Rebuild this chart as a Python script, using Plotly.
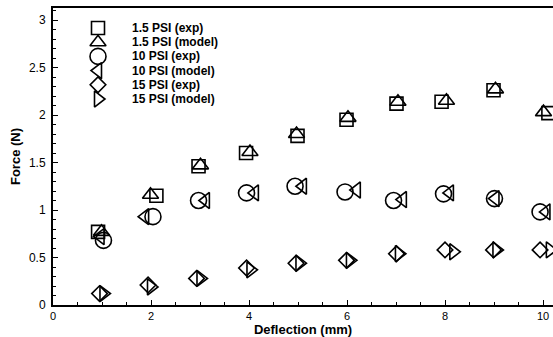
import plotly.graph_objects as go

# Measured force vs. deflection at three inflation pressures
defl_exp_1_5 = [0.92, 2.11, 2.97, 3.94, 4.99, 5.99, 7.01, 7.93, 8.99, 10.11]
force_exp_1_5 = [0.77, 1.15, 1.46, 1.60, 1.78, 1.95, 2.12, 2.14, 2.26, 2.02]

defl_model_1_5 = [0.99, 1.99, 3.01, 4.02, 4.97, 6.02, 7.04, 8.03, 9.03, 10.01]
force_model_1_5 = [0.77, 1.16, 1.47, 1.61, 1.80, 1.97, 2.14, 2.15, 2.27, 2.03]

defl_exp_10 = [1.03, 2.04, 2.97, 3.95, 4.94, 5.96, 6.95, 7.97, 9.01, 9.94]
force_exp_10 = [0.68, 0.93, 1.10, 1.18, 1.25, 1.19, 1.10, 1.17, 1.12, 0.98]

defl_model_10 = [0.97, 1.88, 3.12, 4.12, 5.10, 6.20, 7.14, 8.10, 9.03, 10.07]
force_model_10 = [0.72, 0.93, 1.10, 1.18, 1.25, 1.21, 1.11, 1.18, 1.12, 0.98]

defl_exp_15 = [0.95, 1.94, 2.93, 3.95, 4.96, 5.99, 7.01, 8.00, 8.99, 9.94]
force_exp_15 = [0.12, 0.21, 0.28, 0.39, 0.44, 0.47, 0.54, 0.58, 0.58, 0.58]

defl_model_15 = [1.03, 2.00, 3.01, 4.03, 5.03, 6.06, 7.06, 8.17, 9.05, 10.14]
force_model_15 = [0.12, 0.19, 0.28, 0.37, 0.44, 0.47, 0.54, 0.56, 0.58, 0.58]

series_names = ["1.5 PSI (exp)", "1.5 PSI (model)", "10 PSI (exp)",
                "10 PSI (model)", "15 PSI (exp)", "15 PSI (model)"]

x_ticks = [0, 2, 4, 6, 8, 10]
y_ticks = [0, 0.5, 1, 1.5, 2, 2.5, 3]
y_tick_labels = ["0", "0.5", "1", "1.5", "2", "2.5", "3"]

# Styling
FONT = "Liberation Sans, Arial, sans-serif"
symbols = ["square-open", "triangle-up-open", "circle-open",
           "triangle-left-open", "diamond-open", "triangle-right-open"]
sizes = [13, 14, 16, 14, 12, 14]

series = [
    (defl_exp_1_5, force_exp_1_5),
    (defl_model_1_5, force_model_1_5),
    (defl_exp_10, force_exp_10),
    (defl_model_10, force_model_10),
    (defl_exp_15, force_exp_15),
    (defl_model_15, force_model_15),
]

W, H = 553, 337
ML, MR, MT, MB = 53, 0, 8, 32
plot_w, plot_h = W - ML - MR, H - MT - MB

fig = go.Figure()
for (xs, ys), name, sym, sz in zip(series, series_names, symbols, sizes):
    fig.add_trace(go.Scatter(
        x=xs, y=ys, mode="markers", name=name, showlegend=False,
        marker=dict(symbol=sym, size=sz, color="black",
                    line=dict(color="black", width=1.6)),
        cliponaxis=False,
    ))

# Legend block drawn on a pixel-scaled overlay axis (origin at plot top-left)
leg_x, leg_y0, leg_dy, leg_text_dx = 45, 20, 14.2, 32
leg_rows = [leg_y0 + i * leg_dy for i in range(len(series_names))]
for i, (name, sym, sz) in enumerate(zip(series_names, symbols, sizes)):
    fig.add_trace(go.Scatter(
        x=[leg_x], y=[leg_rows[i]], xaxis="x2", yaxis="y2",
        mode="markers", showlegend=False, hoverinfo="skip",
        marker=dict(symbol=sym, size=sz, color="black",
                    line=dict(color="black", width=1.6)),
    ))
    fig.add_annotation(
        x=leg_x + leg_text_dx, y=leg_rows[i], xref="x2", yref="y2",
        text=f"<b>{name}</b>", showarrow=False, xanchor="left",
        yanchor="middle", font=dict(family=FONT, size=12, color="black"),
    )

x_per_px = 10 / 490
y_per_px = 3 / 285

fig.update_layout(
    width=W, height=H,
    margin=dict(l=ML, r=MR, t=MT, b=MB, pad=0),
    paper_bgcolor="white", plot_bgcolor="white",
    font=dict(family=FONT, size=11, color="black"),
    showlegend=False,
    xaxis=dict(
        range=[0, plot_w * x_per_px], tickvals=x_ticks,
        ticks="inside", ticklen=5, tickwidth=1, tickcolor="black",
        minor=dict(dtick=0.5, ticks="inside", ticklen=3, tickcolor="black"),
        showline=True, linecolor="black", linewidth=2, mirror=True,
        showgrid=False, zeroline=False,
        tickfont=dict(family=FONT, size=11),
        ticklabelstandoff=0,
        title=dict(text="<b>Deflection (mm)</b>", standoff=3,
                   font=dict(family=FONT, size=13)),
    ),
    yaxis=dict(
        range=[0, plot_h * y_per_px], tickvals=y_ticks, ticktext=y_tick_labels,
        ticks="inside", ticklen=5, tickwidth=1, tickcolor="black",
        minor=dict(dtick=0.1, ticks="inside", ticklen=3, tickcolor="black"),
        showline=True, linecolor="black", linewidth=2,
        showgrid=False, zeroline=False,
        tickfont=dict(family=FONT, size=12),
        ticklabelstandoff=3,
        title=dict(text="<b>Force (N)</b>", standoff=5,
                   font=dict(family=FONT, size=13)),
    ),
    xaxis2=dict(overlaying="x", range=[0, plot_w], visible=False),
    yaxis2=dict(overlaying="y", range=[plot_h, 0], visible=False),
)

fig.write_html("out.html")
